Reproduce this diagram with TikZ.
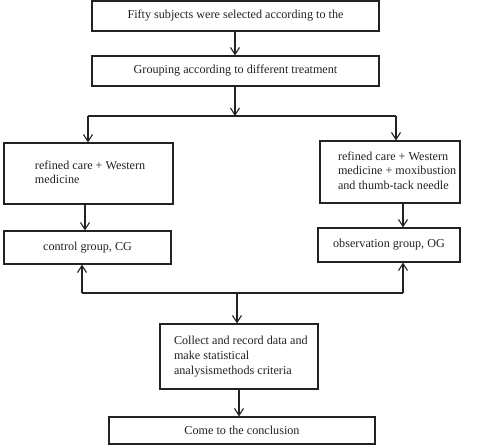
\documentclass[tikz,border=0pt]{standalone}
\usepackage{fontspec}
\setmainfont{Liberation Serif}
\usetikzlibrary{arrows.meta}
\definecolor{ink}{HTML}{222222}
\newcommand{\lblock}[3]{\makebox[#1][l]{\hspace*{#2}\rlap{\begin{tabular}{@{}l@{}}#3\end{tabular}}}}
\begin{document}
\begin{tikzpicture}[x=1bp,y=-1bp,
  box/.style={draw=ink,line width=1.1bp,inner sep=0pt,font=\fontsize{12.2}{15}\selectfont,text=ink},
  conn/.style={draw=ink,line width=1.1bp},
  arr/.style={conn,-{Straight Barb[length=7bp,width=9bp,line width=1.1bp]}}]
\useasboundingbox (0,0) rectangle (488,445);
\node[box,minimum width=287bp,minimum height=30bp] (b1) at (235.5,16) {Fifty subjects were selected according to the};
\node[box,minimum width=287bp,minimum height=30bp] (b2) at (235.5,71) {Grouping according to different treatment};
\node[box,minimum width=169bp,minimum height=61bp] (L) at (88.5,173.5) {\lblock{169bp}{31bp}{refined care + Western\\medicine}};
\node[box,minimum width=140bp,minimum height=62bp] (R) at (390,172) {\lblock{140bp}{18bp}{refined care + Western\\medicine + moxibustion\\and thumb-tack needle}};
\node[box,minimum width=167bp,minimum height=33bp] (CG) at (87.5,247.5) {control group, CG};
\node[box,minimum width=142bp,minimum height=34bp] (OG) at (389,245) {observation group, OG};
\node[box,minimum width=158bp,minimum height=65bp] (C) at (239,356.5) {\lblock{158bp}{14bp}{Collect and record data and\\make statistical\\analysismethods criteria}};
\node[box,minimum width=266bp,minimum height=27bp] (E) at (242,430.5) {Come to the conclusion};
% junctions
\coordinate (j1) at (235,116);
\coordinate (jl) at (88,116);
\coordinate (jr) at (396,116);
\coordinate (k1) at (237,293);
\coordinate (kl) at (82,293);
\coordinate (kr) at (403,293);
\draw[arr] (b1.south -| j1) -- (b2.north -| j1);
\draw[arr] (b2.south -| j1) -- (j1);
\draw[conn] (jl) -- (jr);
\draw[arr] (jl) -- (jl |- L.north);
\draw[arr] (jr) -- (jr |- R.north);
\draw[arr] (L.south -| 85,0) -- (CG.north -| 85,0);
\draw[arr] (R.south -| 403,0) -- (OG.north -| 403,0);
\draw[conn] (kl) -- (kr);
\draw[arr] (kl) -- (kl |- CG.south);
\draw[arr] (kr) -- (kr |- OG.south);
\draw[arr] (k1) -- (k1 |- C.north);
\draw[arr] (C.south -| 239,0) -- (E.north -| 239,0);
\end{tikzpicture}
\end{document}
